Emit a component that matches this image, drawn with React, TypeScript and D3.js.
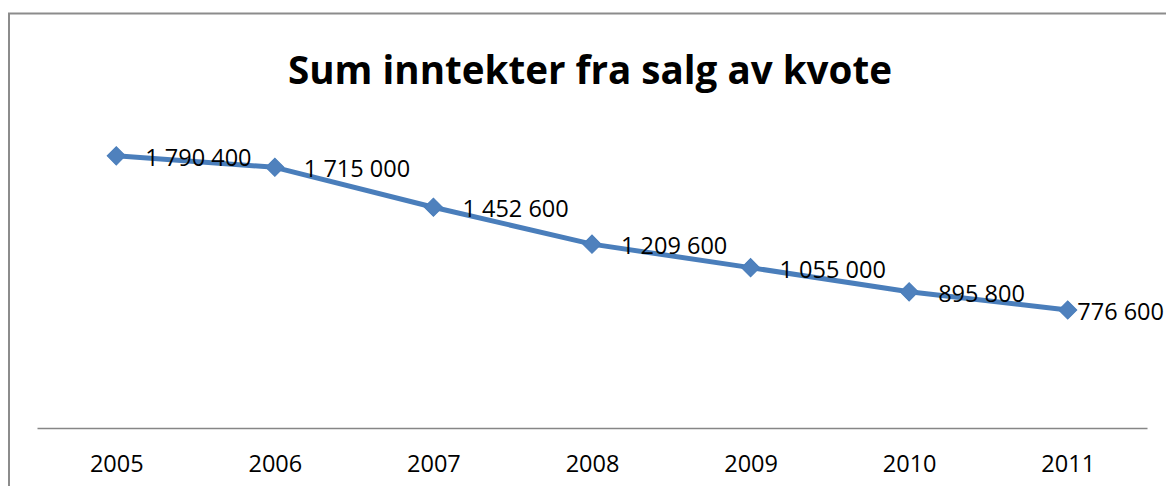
import { useEffect, useRef } from "react";
import * as d3 from "d3";

// Sum inntekter fra salg av kvote
const years = ["2005", "2006", "2007", "2008", "2009", "2010", "2011"];
const income = [1790400, 1715000, 1452600, 1209600, 1055000, 895800, 776600];
const title = "Sum inntekter fra salg av kvote";

const W = 1166;
const H = 486;

const fmt = (v: number) =>
  String(v).replace(/\B(?=(\d{3})+(?!\d))/g, " ");

const App = () => {
  const ref = useRef<SVGSVGElement>(null);

  useEffect(() => {
    const svg = d3.select(ref.current);
    svg.selectAll("*").remove();

    const font = "Open Sans, Lato, sans-serif";
    const margin = { left: 37, right: 19, top: 124, bottom: 58 };

    // outer chart frame (runs past the right and bottom edge of the picture)
    svg
      .append("rect")
      .attr("x", 9)
      .attr("y", 13.5)
      .attr("width", 1180)
      .attr("height", 500)
      .attr("fill", "white")
      .attr("stroke", "#8c8c8c")
      .attr("stroke-width", 2);

    svg
      .append("text")
      .attr("x", 590)
      .attr("y", 84)
      .attr("text-anchor", "middle")
      .attr("font-family", font)
      .attr("font-weight", "bold")
      .attr("font-size", 39)
      .attr("textLength", 604)
      .attr("lengthAdjust", "spacingAndGlyphs")
      .attr("fill", "#000")
      .text(title);

    const x = d3
      .scalePoint()
      .domain(years)
      .range([margin.left, W - margin.right])
      .padding(0.5);

    const y = d3
      .scaleLinear()
      .domain([0, 2000000])
      .range([H - margin.bottom, margin.top]);

    // category axis
    const axis = svg
      .append("g")
      .attr("transform", `translate(0,${y(0)})`)
      .call(d3.axisBottom(x).tickSize(0).tickPadding(27));
    axis.select(".domain").attr("stroke", "#868686").attr("stroke-width", 1.5);
    axis
      .selectAll("text")
      .attr("font-family", font)
      .attr("font-size", 23.5)
      .attr("fill", "#000");

    const pts = years.map((yr, i) => ({ yr, v: income[i] }));

    svg
      .append("path")
      .datum(pts)
      .attr("fill", "none")
      .attr("stroke", "#4a7ebb")
      .attr("stroke-width", 5)
      .attr("stroke-linejoin", "round")
      .attr(
        "d",
        d3
          .line<{ yr: string; v: number }>()
          .x((d) => x(d.yr)!)
          .y((d) => y(d.v))
      );

    const diamond = d3.symbol(d3.symbolSquare, 165)();
    svg
      .selectAll(".mark")
      .data(pts)
      .enter()
      .append("path")
      .attr("class", "mark")
      .attr("d", diamond)
      .attr("transform", (d) => `translate(${x(d.yr)},${y(d.v)}) rotate(45)`)
      .attr("fill", "#4f81bd")
      .attr("stroke", "#4a7ebb")
      .attr("stroke-width", 1);

    // data labels to the right of each point, kept inside the frame
    svg
      .selectAll(".label")
      .data(pts)
      .enter()
      .append("text")
      .attr("class", "label")
      .attr("font-family", font)
      .attr("font-size", 23.5)
      .attr("fill", "#000")
      .attr("dy", "0.38em")
      .attr("y", (d) => y(d.v) + 1)
      .text((d) => fmt(d.v))
      .each(function (d) {
        const t = d3.select(this);
        const w = (this as SVGTextElement).getComputedTextLength();
        const left = x(d.yr)! + 29;
        if (left + w > W - 2) {
          t.attr("x", W - 2).attr("text-anchor", "end");
        } else {
          t.attr("x", left);
        }
      });
  }, []);

  return (
    <svg
      ref={ref}
      width={W}
      height={H}
      style={{ position: "absolute", left: 0, top: 0, background: "white" }}
    />
  );
};

export default App;
